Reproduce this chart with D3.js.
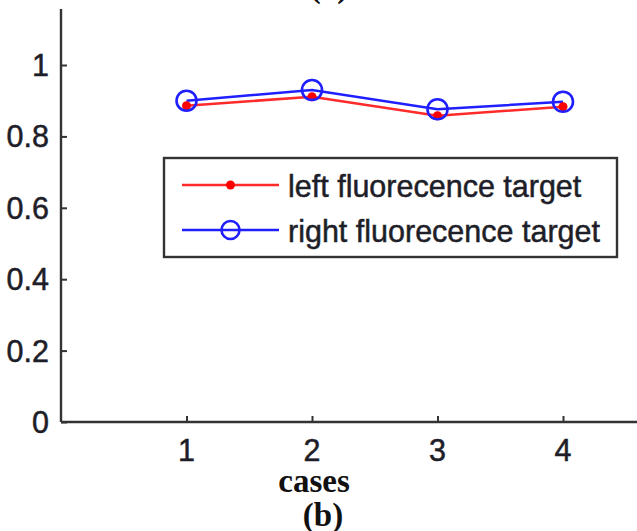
<!DOCTYPE html>
<html><head><meta charset="utf-8">
<script src="https://cdn.jsdelivr.net/npm/d3@7"></script>
<style>html,body{margin:0;padding:0;background:#fff;}svg{display:block;}</style>
</head><body>
<svg id="c" width="637" height="531"></svg>
<script>
const cases = [1, 2, 3, 4];
const leftTarget = [0.886, 0.911, 0.858, 0.883];
const rightTarget = [0.900, 0.930, 0.876, 0.897];
const yTicks = [0, 0.2, 0.4, 0.6, 0.8, 1];
const yTickLabels = ["0", "0.2", "0.4", "0.6", "0.8", "1"];
const xTicks = [1, 2, 3, 4];
const seriesNames = ["left fluorecence target", "right fluorecence target"];
const xDomain = [0, 5];
const yTop = 1.157;

const svg = d3.select("#c");
const x = d3.scaleLinear().domain(xDomain).range([61, 688.5]);
const y = d3.scaleLinear().domain([0, 1]).range([422, 65]);
const axisColor = "#333";
const textColor = "#1e1e28";
const sans = "Liberation Sans, Arial, sans-serif";
const serif = "Liberation Serif, Times New Roman, serif";

// axes lines
svg.append("line").attr("x1", x(0)).attr("x2", x(0)).attr("y1", y(0)).attr("y2", y(yTop))
  .attr("stroke", axisColor).attr("stroke-width", 2.4);
svg.append("line").attr("x1", x(0)).attr("x2", x(xDomain[1])).attr("y1", y(0)).attr("y2", y(0))
  .attr("stroke", axisColor).attr("stroke-width", 2.4);

// y ticks
const yAxis = d3.axisRight(y).tickValues(yTicks).tickSize(6).tickFormat("");
const gy = svg.append("g").attr("transform", `translate(${x(0)},0)`).call(yAxis);
gy.select(".domain").remove();
gy.selectAll(".tick line").attr("stroke", axisColor).attr("stroke-width", 2);
svg.selectAll(".ylab").data(yTicks).enter().append("text")
  .attr("x", 49).attr("y", d => y(d) + 11)
  .attr("text-anchor", "end")
  .attr("font-family", sans).attr("font-size", 30.5)
  .attr("fill", textColor).attr("stroke", textColor).attr("stroke-width", 0.5)
  .text((d, i) => yTickLabels[i]);

// x ticks
const xAxis = d3.axisTop(x).tickValues(xTicks).tickSize(6).tickFormat("");
const gx = svg.append("g").attr("transform", `translate(0,${y(0)})`).call(xAxis);
gx.select(".domain").remove();
gx.selectAll(".tick line").attr("stroke", axisColor).attr("stroke-width", 2);
svg.selectAll(".xlab").data(xTicks).enter().append("text")
  .attr("x", d => x(d)).attr("y", y(0) + 39)
  .attr("text-anchor", "middle")
  .attr("font-family", sans).attr("font-size", 30.5)
  .attr("fill", textColor).attr("stroke", textColor).attr("stroke-width", 0.5)
  .text(d => d);

// lines
const line = d3.line().x((d, i) => x(cases[i])).y(d => y(d));
svg.append("path").datum(leftTarget).attr("d", line)
  .attr("fill", "none").attr("stroke", "#ff2a2a").attr("stroke-width", 2.6);
svg.append("path").datum(rightTarget).attr("d", line)
  .attr("fill", "none").attr("stroke", "#1f1fff").attr("stroke-width", 2.6);
svg.selectAll(".rdot").data(leftTarget).enter().append("circle")
  .attr("cx", (d, i) => x(cases[i])).attr("cy", d => y(d)).attr("r", 4.5)
  .attr("fill", "#ff0000");
svg.selectAll(".bcirc").data(rightTarget).enter().append("circle")
  .attr("cx", (d, i) => x(cases[i])).attr("cy", d => y(d)).attr("r", 10)
  .attr("fill", "none").attr("stroke", "#1f1fff").attr("stroke-width", 2.6);

// legend
const lg = svg.append("g");
lg.append("rect").attr("x", 164).attr("y", 158).attr("width", 453).attr("height", 99)
  .attr("fill", "#fff").attr("stroke", axisColor).attr("stroke-width", 2.4);
const lgY = [185, 230];
const lgCol = ["#ff2a2a", "#1f1fff"];
lgY.forEach((ly, i) => {
  lg.append("line").attr("x1", 182).attr("x2", 279).attr("y1", ly).attr("y2", ly)
    .attr("stroke", lgCol[i]).attr("stroke-width", 2.6);
  if (i === 0) {
    lg.append("circle").attr("cx", 230.5).attr("cy", ly).attr("r", 4.5).attr("fill", "#ff0000");
  } else {
    lg.append("circle").attr("cx", 230.5).attr("cy", ly).attr("r", 9)
      .attr("fill", "none").attr("stroke", "#1f1fff").attr("stroke-width", 2.6);
  }
  lg.append("text").attr("x", 288).attr("y", ly + 12)
    .attr("font-family", sans).attr("font-size", 30.5)
    .attr("fill", textColor).attr("stroke", textColor).attr("stroke-width", 0.5)
    .text(seriesNames[i]);
});

// labels
svg.append("text").attr("x", 314).attr("y", 492).attr("text-anchor", "middle")
  .attr("font-family", serif).attr("font-weight", "bold")
  .attr("font-size", 33).attr("fill", "#111").text("cases");
svg.append("text").attr("x", 323).attr("y", 526).attr("text-anchor", "middle")
  .attr("font-family", serif).attr("font-weight", "bold")
  .attr("font-size", 33).attr("fill", "#111").text("(b)");
svg.append("text").attr("x", 329).attr("y", -3).attr("text-anchor", "middle")
  .attr("font-family", serif).attr("font-weight", "bold")
  .attr("font-size", 33).attr("fill", "#111").text("(a)");
</script>
</body></html>
